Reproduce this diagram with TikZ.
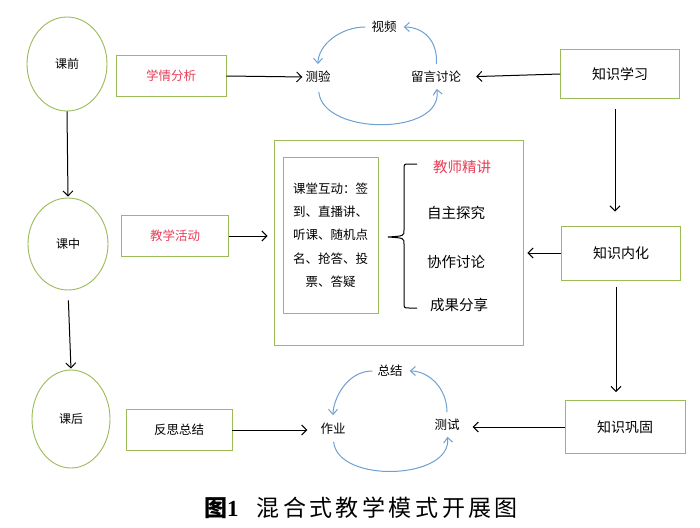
\documentclass[tikz,border=0pt]{standalone}
\usepackage{fontspec}
\setmainfont{Noto Sans CJK SC}
\newfontfamily\numfont{Liberation Serif}
\usetikzlibrary{shapes.geometric,arrows.meta}
\definecolor{gline}{RGB}{155,187,89}
\definecolor{rtext}{RGB}{232,62,88}
\definecolor{bline}{RGB}{110,160,210}
\begin{document}
\begin{tikzpicture}[x=1pt,y=-1pt,
  circ/.style={ellipse,draw=gline,line width=0.9pt,inner sep=0pt,font=\fontsize{12}{14}\selectfont},
  gbox/.style={rectangle,draw=gline,line width=0.9pt,inner sep=0pt,font=\fontsize{12.5}{15}\selectfont},
  rbox/.style={gbox,font=\fontsize{14}{16}\selectfont},
  lbl/.style={inner sep=1pt,font=\fontsize{12.5}{15}\selectfont},
  itm/.style={inner sep=1pt,font=\fontsize{14.5}{17}\selectfont},
  conn/.style={draw=black,line width=1pt,-{Straight Barb[length=5pt,width=10pt]}},
  cyc/.style={draw=bline,line width=1pt,-{Straight Barb[length=5pt,width=9pt]}},
]
\useasboundingbox[fill=white] (0,0) rectangle (700,527);

% stage ellipses
\node[circ,minimum width=80pt,minimum height=94pt] (pre) at (67,64) {课前};
\node[circ,minimum width=80pt,minimum height=92pt] (mid) at (68,244) {课中};
\node[circ,minimum width=78pt,minimum height=98pt] (post) at (71,419) {课后};

% left boxes
\node[gbox,text=rtext,minimum width=110pt,minimum height=41pt] (xq) at (171,76) {学情分析};
\node[gbox,text=rtext,minimum width=107pt,minimum height=41pt] (jx) at (175,236) {教学活动};
\node[gbox,minimum width=106pt,minimum height=41pt] (fs) at (179,430) {反思总结};

% right boxes
\node[rbox,minimum width=119pt,minimum height=49pt] (zs1) at (620,74) {知识学习};
\node[rbox,minimum width=119pt,minimum height=54pt] (zs2) at (621,253) {知识内化};
\node[rbox,minimum width=120pt,minimum height=53pt] (zs3) at (625,427) {知识巩固};

% middle big box
\node[gbox,minimum width=249pt,minimum height=205pt] (outer) at (398.5,242.5) {};
\node[gbox,minimum width=95pt,minimum height=156pt] (inner) at (330.5,235) {};
\node[lbl,align=center,font=\fontsize{12.5}{23.3}\selectfont] (hd) at (inner.center) {课堂互动：签\\到、直播讲、\\听课、随机点\\名、抢答、投\\票、答疑};

\node[itm,text=rtext] (t1) at (462,167) {教师精讲};
\node[itm] (t2) at (456,213) {自主探究};
\node[itm] (t3) at (456,262) {协作讨论};
\node[itm] (t4) at (459,305) {成果分享};

% brace
\draw[line width=1pt] (417,164) -- (409,164) .. controls (404,164) .. (404,170) -- (404,230)
  .. controls (404,236) .. (388,237) .. controls (404,238) .. (404,244) -- (404,302)
  .. controls (404,308) .. (409,308) -- (417,308);

% top cycle
\node[lbl] (cy) at (318,77) {测验};
\node[lbl] (sp) at (384,27) {视频};
\node[lbl] (ly) at (436,77) {留言讨论};
\draw[cyc,shorten <=5pt,shorten >=6pt] (sp.west) .. controls +(-30,0) and +(0,-25) .. (cy.north);
\draw[cyc,shorten <=8pt,shorten >=5pt] (cy.south) .. controls +(5,52) and +(8,52) .. (ly.south);
\draw[cyc,shorten <=6pt,shorten >=6pt] (ly.north) .. controls +(2,-30) and +(25,0) .. (sp.east);

% bottom cycle
\node[lbl] (zy) at (333,429) {作业};
\node[lbl] (zj) at (390,371) {总结};
\node[lbl] (cs) at (447,425) {测试};
\draw[cyc,shorten <=4pt,shorten >=7pt] (zj.west) .. controls +(-30,0) and +(0,-22) .. (zy.north);
\draw[cyc,shorten <=6pt,shorten >=5pt] (zy.south) .. controls +(5,48) and +(5,48) .. (cs.south);
\draw[cyc,shorten <=6pt,shorten >=6pt] (cs.north) .. controls +(0,-30) and +(25,0) .. (zj.east);

% connectors
\draw[conn,shorten >=2pt] (xq.east) -- (cy.west);
\draw[conn,shorten >=14pt] (zs1.west) -- (ly.east);
\draw[conn,shorten <=10pt,shorten >=14pt] ([xshift=-5pt]zs1.south) -- ([xshift=-5pt]zs1.south |- zs2.north);
\draw[conn,shorten >=4pt] (zs2.west) -- (outer.east |- zs2.west);
\draw[conn,shorten <=7pt,shorten >=8pt] ([xshift=-5pt]zs2.south) -- ([xshift=-5pt]zs2.south |- zs3.north);
\draw[conn,shorten >=12pt] (zs3.west) -- (cs.east |- zs3.west);
\draw[conn,shorten >=1pt] (pre.south) -- (mid.north);
\draw[conn,shorten <=10pt,shorten >=1pt] (mid.south) -- (post.north);
\draw[conn,shorten >=6pt] (jx.east) -- (outer.west |- jx.east);
\draw[conn,shorten >=12pt] (fs.east) -- (zy.west |- fs.east);

% caption
\node[inner sep=0pt] (cap) at (361,508) {\fontsize{23}{25}\selectfont{\bfseries 图{\numfont 1}}\hspace{18pt}混\hspace{3.5pt}合\hspace{3.5pt}式\hspace{3.5pt}教\hspace{3.5pt}学\hspace{3.5pt}模\hspace{3.5pt}式\hspace{3.5pt}开\hspace{3.5pt}展\hspace{3.5pt}图};
\end{tikzpicture}
\end{document}
